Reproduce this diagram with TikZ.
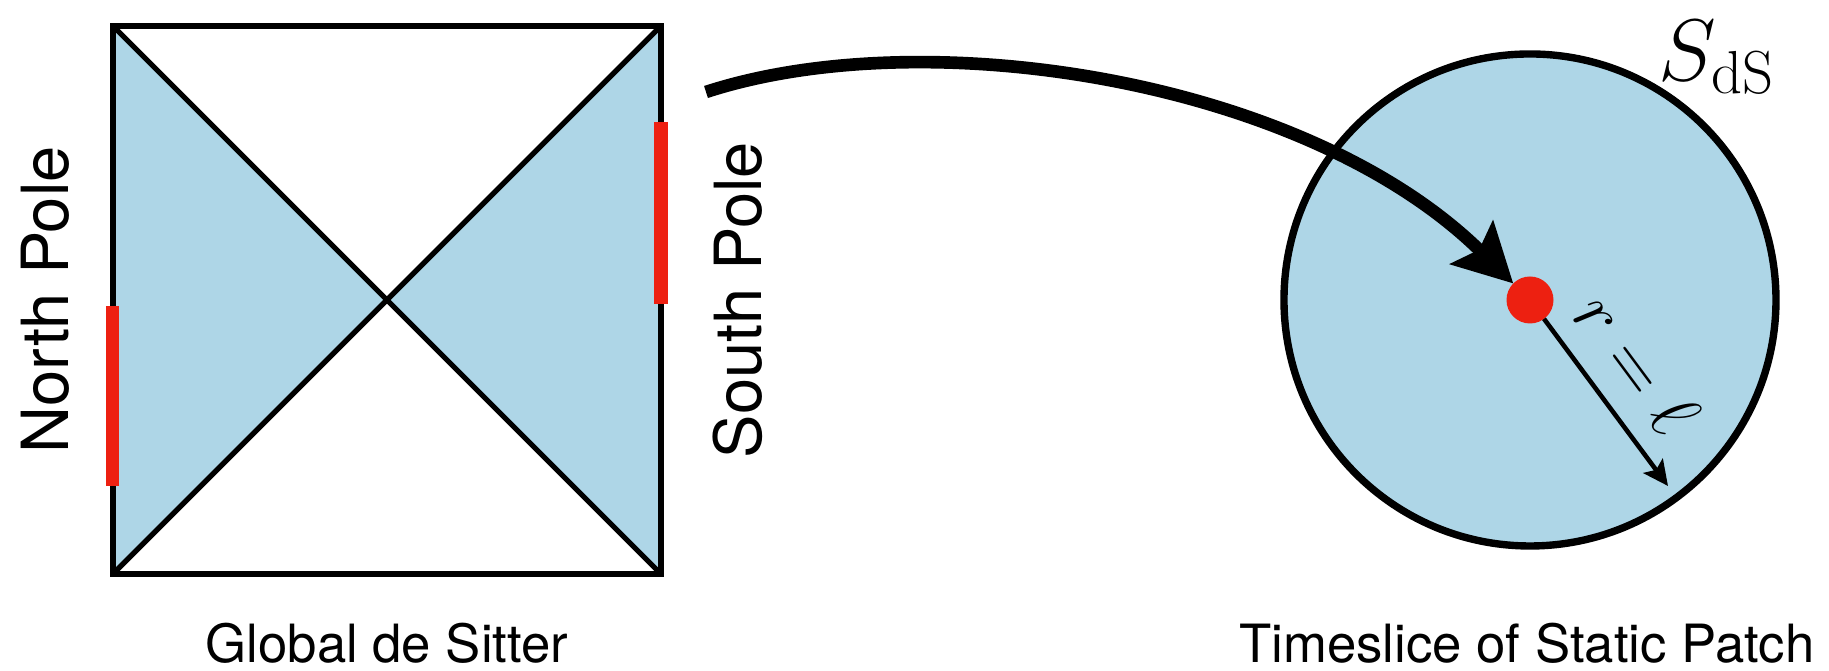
\documentclass[tikz,border=0pt]{standalone}
\usepackage[no-math]{fontspec}
\setmainfont{TeX Gyre Heros}
\usepackage{amsmath}
\usetikzlibrary{calc,positioning,arrows.meta}
\definecolor{dsblue}{RGB}{174,214,231}
\definecolor{dsred}{RGB}{237,32,17}
\tikzset{
 ds edge/.style={line width=1.5pt,line join=miter},
 ds wedge/.style={fill=dsblue},
 ds pole/.style={line width=3.7pt,dsred},
 ds dot/.style={circle,fill=dsred,minimum size=4.7mm,inner sep=0pt,outer sep=0pt},
 ds side label/.style={rotate=90,font=\fontsize{18.5}{21}\selectfont},
 ds caption/.style={font=\fontsize{15}{18}\selectfont},
 ds map/.style={line width=3.6pt,-{Stealth[length=5.8mm,width=6mm,inset=1mm]}},
 ds radius/.style={line width=1.3pt,-{Stealth[length=2.5mm,width=2.4mm,inset=.5mm]}}
}

\begin{document}
\begin{tikzpicture}
 \useasboundingbox (-3.87,-3.71) rectangle (14.42,3.00);
 % global de Sitter
 \coordinate (tl) at (-2.74,2.74);
 \coordinate (tr) at (2.74,2.74);
 \coordinate (bl) at (-2.74,-2.74);
 \coordinate (br) at (2.74,-2.74);
 \coordinate (mid) at (0,0);
 \fill[ds wedge] (tl)--(mid)--(bl)--cycle (tr)--(mid)--(br)--cycle;
 \draw[ds edge] (tl) rectangle (br);
 \draw[ds edge] (tl)--(br) (bl)--(tr);
 \draw[ds pole] (-2.74,-.06)--(-2.74,-1.86);
 \draw[ds pole] (2.74,1.78)--(2.74,-.04);
 \node[ds side label] (northlbl) at (-3.42,0) {North Pole};
 \node[ds side label] (southlbl) at (3.51,0) {South Pole};
 \node[ds caption] (globallbl) at (0,-3.43) {Global de Sitter};
 % static patch
 \draw[line width=2.1pt,fill=dsblue] (11.43,0) circle (2.46);
 \node[ds dot] (obs) at (11.43,0) {};
 \coordinate (rim) at (12.81,-1.86);
 \draw[ds radius] (obs) -- node[pos=.44,sloped,above=.9mm,font=\fontsize{20}{24}\selectfont]
   (rlbl) {$r=\ell$} (rim);
 \node[font=\fontsize{25}{30}\selectfont] (sds) at (13.30,2.43) {$S_{\mathrm{dS}}$};
 \node[ds caption] (patchlbl) at (11.40,-3.43) {Timeslice of Static Patch};
 \coordinate (mapstart) at (3.19,2.08);
 \draw[ds map] (mapstart) .. controls (5.4,2.8) and (9.2,2.2) .. (obs);
\end{tikzpicture}
\end{document}
